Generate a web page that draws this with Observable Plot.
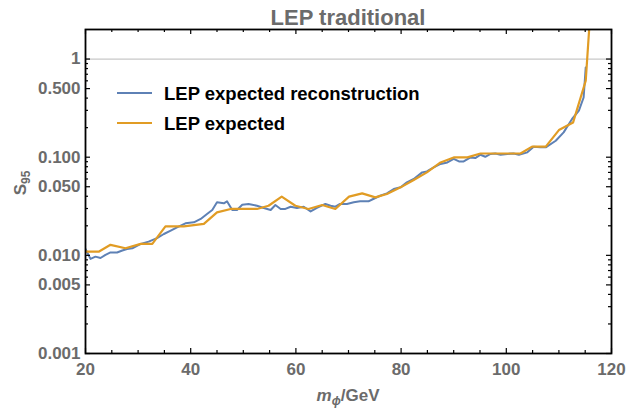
<!DOCTYPE html>
<html><head><meta charset="utf-8">
<script src="https://cdn.jsdelivr.net/npm/d3@7"></script>
<script src="https://cdn.jsdelivr.net/npm/@observablehq/plot@0.6"></script>
<style>
body{margin:0;background:#fff;}
#chart{position:relative;width:628px;height:409px;}
</style></head><body><div id="chart"></div>
<script>
// LEP expected reconstruction (blue)
const reconMass = [20.0,20.95,21.9,22.85,23.8,24.75,26.0,27.0,27.9,28.9,30.5,32.0,33.6,34.9,36.2,37.4,39.0,40.6,41.9,43.1,44.1,45.0,46.3,46.9,47.9,48.8,49.8,51.0,52.6,53.9,55.2,56.1,57.1,58.0,59.0,60.2,61.5,62.8,64.0,65.6,66.6,67.5,68.4,69.7,71.0,72.2,73.8,74.7,76.0,77.3,78.6,79.9,81.1,82.4,84.0,84.9,86.2,87.5,88.8,90.0,91.0,91.9,93.2,94.1,95.1,96.0,97.0,97.9,98.9,100.2,101.4,102.4,104.0,105.2,106.5,107.5,109.4,110.9,112.5,113.8,114.7,115.1];
const reconS95 = [0.0116,0.0092,0.0097,0.0094,0.0101,0.0107,0.0107,0.0112,0.0116,0.0118,0.0131,0.0138,0.0150,0.0165,0.0179,0.0193,0.0212,0.0217,0.0235,0.0264,0.0290,0.0347,0.0339,0.0355,0.0290,0.0290,0.0328,0.0334,0.0320,0.0304,0.0290,0.0326,0.0297,0.0297,0.0313,0.0304,0.0313,0.0280,0.0304,0.0334,0.0320,0.0313,0.0334,0.0334,0.0347,0.0355,0.0355,0.0375,0.0405,0.0428,0.0474,0.0493,0.0554,0.0600,0.0700,0.0717,0.0787,0.0853,0.0885,0.0960,0.0906,0.0906,0.0995,0.0980,0.1060,0.1010,0.1080,0.1090,0.1060,0.1080,0.1090,0.1060,0.1120,0.1280,0.1260,0.1260,0.1470,0.1790,0.2450,0.2980,0.4060,0.8220];
// LEP expected (orange)
const expMass = [20.0,22.5,24.75,27.6,30.5,32.7,35.2,38.7,42.5,45.0,47.6,52.6,54.8,57.3,59.9,62.4,65.0,67.5,70.1,72.6,75.1,77.3,79.9,82.4,84.9,87.5,90.0,92.6,95.1,102.7,104.9,107.5,110.0,112.7,115.1,115.75];
const expS95 = [0.0109,0.0109,0.0128,0.0118,0.0131,0.0131,0.0197,0.0197,0.0209,0.0274,0.0297,0.0297,0.0320,0.0396,0.0320,0.0297,0.0326,0.0297,0.0396,0.0428,0.0390,0.0422,0.0493,0.0586,0.0700,0.0885,0.0995,0.0995,0.1090,0.1090,0.1280,0.1280,0.1890,0.2260,0.6010,2.0];

const seriesNames = ["LEP expected reconstruction", "LEP expected"];
const seriesColors = ["#5E81B5", "#E19C24"];
const titleText = "LEP traditional";
const xTicks = [20,40,60,80,100,120];
const xMinorTicks = [25,30,35,45,50,55,65,70,75,85,90,95,105,110,115];
const yTicks = [0.001,0.005,0.01,0.05,0.1,0.5,1];
const yTickLabels = ["0.001","0.005","0.010","0.050","0.100","0.500","1"];
const yMinorTicks = [0.002,0.003,0.004,0.006,0.007,0.008,0.009,0.02,0.03,0.04,0.06,0.07,0.08,0.09,0.2,0.3,0.4,0.6,0.7,0.8,0.9];
const gridValues = [1];

const reconData = reconMass.map((m,i)=>({m, s: reconS95[i]}));
const expData = expMass.map((m,i)=>({m, s: expS95[i]}));
const yLabelData = yTicks.map((v,i)=>({v, label: yTickLabels[i]}));

const W=628,H=409,mL=85,mR=17,mT=29,mB=56;
const fw=W-mL-mR, fh=H-mT-mB;
const majorLen=5, minorLen=3;
const tk={stroke:"black", strokeWidth:1.2};
const FONT='"Liberation Sans", Arial, sans-serif';
const GRAY="#6b6b6b";

const plot = Plot.plot({
  width: W, height: H,
  marginLeft: mL, marginRight: mR, marginTop: mT, marginBottom: mB,
  style: {fontFamily: FONT, fontSize: "17px", fontWeight: "bold", color: GRAY, background: "white"},
  x: {domain: [20,120]},
  y: {type: "log", domain: [0.001, 2], axis: null},
  marks: [
    Plot.ruleY(gridValues, {stroke: "#c8c8c8", strokeWidth: 1.2}),
    Plot.line(reconData, {x: "m", y: "s", stroke: seriesColors[0], strokeWidth: 2, clip: true}),
    Plot.line(expData, {x: "m", y: "s", stroke: seriesColors[1], strokeWidth: 2.2, clip: true}),
    Plot.ruleX(xTicks, {...tk, insetTop: fh-majorLen}),
    Plot.ruleX(xTicks, {...tk, insetBottom: fh-majorLen}),
    Plot.ruleX(xMinorTicks, {...tk, insetTop: fh-minorLen}),
    Plot.ruleX(xMinorTicks, {...tk, insetBottom: fh-minorLen}),
    Plot.ruleY(yTicks, {...tk, insetRight: fw-majorLen}),
    Plot.ruleY(yTicks, {...tk, insetLeft: fw-majorLen}),
    Plot.ruleY(yMinorTicks, {...tk, insetRight: fw-minorLen}),
    Plot.ruleY(yMinorTicks, {...tk, insetLeft: fw-minorLen}),
    Plot.frame({stroke: "black", strokeWidth: 1.8}),
    Plot.axisX({ticks: xTicks, tickSize: 0, tickPadding: 9, label: null, tickFormat: d => String(d)}),
    Plot.text(yLabelData, {y: "v", text: "label", frameAnchor: "left", textAnchor: "end", dx: -5,
      fill: GRAY, fontSize: 17, fontWeight: "bold", fontFamily: FONT})
  ]
});
document.getElementById("chart").appendChild(plot);

const svg = d3.select(plot);
// title
svg.append("text").attr("x", mL+fw/2).attr("y", 25).attr("text-anchor","middle")
  .attr("font-family", FONT).attr("font-size", 22).attr("font-weight","bold").attr("fill",GRAY)
  .text(titleText);
// x label
const xl = svg.append("text").attr("x", mL+fw/2).attr("y", 401).attr("text-anchor","middle")
  .attr("font-family", FONT).attr("font-size", 17).attr("font-weight","bold").attr("fill",GRAY);
xl.append("tspan").attr("font-style","italic").text("m");
xl.append("tspan").attr("font-style","italic").attr("font-size",12).attr("dy",4).text("ϕ");
xl.append("tspan").attr("dy",-4).text("/GeV");
// y label
const yl = svg.append("text").attr("transform", `translate(26,${mT+fh/2 - 8}) rotate(-90)`).attr("text-anchor","middle")
  .attr("font-family", FONT).attr("font-size", 17).attr("font-weight","bold").attr("fill",GRAY);
yl.append("tspan").text("S");
yl.append("tspan").attr("font-size",12).attr("dy",4).text("95");
// legend
const lg = svg.append("g").attr("font-family", FONT).attr("text-anchor","start");
seriesNames.forEach((name,i)=>{
  const y = 93 + i*30;
  lg.append("line").attr("x1",117).attr("x2",152).attr("y1",y).attr("y2",y)
    .attr("stroke",seriesColors[i]).attr("stroke-width",2);
  lg.append("text").attr("x",164).attr("y",y).attr("dy","0.36em").attr("text-anchor","start")
    .attr("font-size",18.5).attr("font-weight","bold").attr("fill","black").text(name);
});
</script></body></html>
